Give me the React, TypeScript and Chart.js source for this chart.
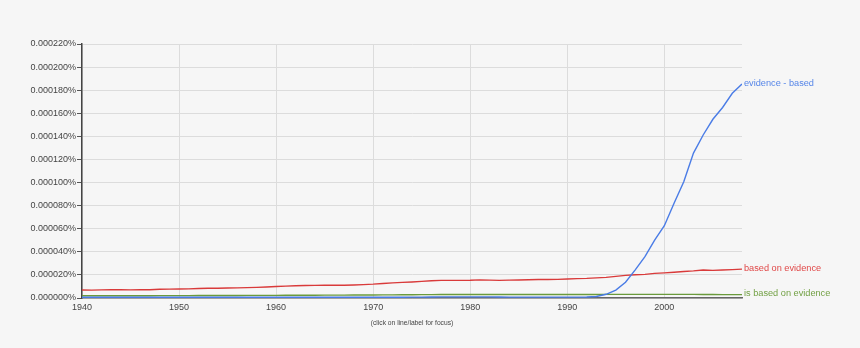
import React, { useEffect, useRef } from "react";
import { Chart, registerables } from "chart.js";

Chart.register(...registerables);

const years: number[] = [];
for (let y = 1940; y <= 2008; y++) years.push(y);

// values in percent
const evidenceBased = [
  0.7e-6, 0.7e-6, 0.7e-6, 0.7e-6, 0.7e-6, 0.7e-6, 0.7e-6, 0.7e-6, 0.7e-6, 0.7e-6,
  0.7e-6, 0.7e-6, 0.7e-6, 0.7e-6, 0.7e-6, 0.7e-6, 0.7e-6, 0.7e-6, 0.7e-6, 0.7e-6,
  0.7e-6, 0.7e-6, 0.7e-6, 0.7e-6, 0.7e-6, 0.7e-6, 0.7e-6, 0.7e-6, 0.7e-6, 0.7e-6,
  0.7e-6, 0.7e-6, 0.7e-6, 0.7e-6, 0.8e-6, 0.8e-6, 0.9e-6, 1.0e-6, 1.0e-6, 1.0e-6,
  1.0e-6, 1.0e-6, 1.0e-6, 0.9e-6, 0.8e-6, 0.8e-6, 0.8e-6, 0.8e-6, 0.8e-6, 0.8e-6,
  0.8e-6, 0.8e-6, 0.9e-6, 1.3e-6, 3.2e-6, 6.9e-6, 13.6e-6, 24.3e-6, 35.8e-6, 50.2e-6,
  62.6e-6, 82.0e-6, 100.7e-6, 125.5e-6, 141.2e-6, 154.8e-6, 165.0e-6, 177.3e-6, 185.3e-6,
];

const basedOnEvidence = [
  6.9e-6, 6.8e-6, 7.0e-6, 7.1e-6, 7.1e-6, 7.0e-6, 7.1e-6, 7.2e-6, 7.6e-6, 7.7e-6,
  7.8e-6, 7.9e-6, 8.2e-6, 8.4e-6, 8.5e-6, 8.6e-6, 8.8e-6, 9.0e-6, 9.2e-6, 9.5e-6,
  9.9e-6, 10.3e-6, 10.6e-6, 10.8e-6, 10.9e-6, 11.0e-6, 11.1e-6, 11.0e-6, 11.3e-6, 11.6e-6,
  12.0e-6, 12.6e-6, 13.1e-6, 13.5e-6, 13.9e-6, 14.4e-6, 15.0e-6, 15.3e-6, 15.3e-6, 15.3e-6,
  15.4e-6, 15.7e-6, 15.5e-6, 15.3e-6, 15.5e-6, 15.6e-6, 15.8e-6, 16.0e-6, 16.0e-6, 16.1e-6,
  16.4e-6, 16.8e-6, 17.0e-6, 17.4e-6, 17.9e-6, 18.7e-6, 19.6e-6, 20.2e-6, 20.5e-6, 21.3e-6,
  21.8e-6, 22.3e-6, 22.9e-6, 23.5e-6, 24.3e-6, 23.9e-6, 24.2e-6, 24.6e-6, 25.0e-6,
];

const isBasedOnEvidence = [
  1.9e-6, 1.9e-6, 1.9e-6, 2.0e-6, 2.0e-6, 2.0e-6, 2.0e-6, 2.0e-6, 2.1e-6, 2.1e-6,
  2.1e-6, 2.1e-6, 2.2e-6, 2.2e-6, 2.2e-6, 2.2e-6, 2.2e-6, 2.3e-6, 2.3e-6, 2.3e-6,
  2.3e-6, 2.4e-6, 2.4e-6, 2.4e-6, 2.4e-6, 2.5e-6, 2.5e-6, 2.5e-6, 2.6e-6, 2.6e-6,
  2.6e-6, 2.7e-6, 2.7e-6, 2.8e-6, 2.8e-6, 2.9e-6, 2.9e-6, 3.0e-6, 3.0e-6, 3.0e-6,
  3.0e-6, 3.0e-6, 3.0e-6, 3.0e-6, 3.0e-6, 3.0e-6, 3.0e-6, 3.0e-6, 3.0e-6, 3.0e-6,
  3.0e-6, 3.0e-6, 3.0e-6, 3.0e-6, 3.1e-6, 3.1e-6, 3.1e-6, 3.1e-6, 3.1e-6, 3.1e-6,
  3.1e-6, 3.1e-6, 3.1e-6, 3.1e-6, 3.0e-6, 3.0e-6, 2.9e-6, 2.9e-6, 2.9e-6,
];

const seriesLabels = ["evidence - based", "based on evidence", "is based on evidence"];
const lineColors = ["#4a7ce6", "#d93a3a", "#6a9a3c"];
const labelColors = ["#5585e8", "#e04848", "#72a044"];
const noteText = "(click on line/label for focus)";

const FONT = "'Liberation Sans', Arial, sans-serif";

const endLabels = {
  id: "endLabels",
  afterDatasetsDraw(chart: any) {
    const ctx = chart.ctx;
    ctx.save();
    ctx.font = `9.2px ${FONT}`;
    ctx.textBaseline = "middle";
    ctx.textAlign = "left";
    chart.data.datasets.forEach((ds: any, i: number) => {
      const meta = chart.getDatasetMeta(i);
      const pt = meta.data[meta.data.length - 1];
      ctx.fillStyle = labelColors[i];
      ctx.fillText(ds.label, pt.x + 2, pt.y - 1);
    });
    const a = chart.chartArea;
    ctx.font = `6.7px ${FONT}`;
    ctx.fillStyle = "#444";
    ctx.textAlign = "center";
    ctx.fillText(noteText, (a.left + a.right) / 2, 323);
    ctx.restore();
  },
};

export default function App() {
  const ref = useRef<HTMLCanvasElement>(null);
  useEffect(() => {
    const chart = new Chart(ref.current!, {
      type: "line",
      data: {
        datasets: seriesLabels.map((label, i) => ({
          label,
          data: [evidenceBased, basedOnEvidence, isBasedOnEvidence][i].map((v, j) => ({ x: years[j], y: v })),
          borderColor: lineColors[i],
          backgroundColor: lineColors[i],
          borderWidth: 1.4,
          pointRadius: 0,
          tension: 0,
          fill: false,
        })),
      },
      options: {
        animation: false,
        responsive: false,
        layout: { padding: { top: 44, right: 118, left: 0, bottom: 0 } },
        plugins: { legend: { display: false }, tooltip: { enabled: false } },
        scales: {
          x: {
            type: "linear",
            min: 1940,
            max: 2008,
            afterBuildTicks: (s: any) => {
              s.ticks = s.ticks.filter((t: any) => t.value % 10 === 0);
            },
            afterFit: (s: any) => {
              s.height = 50;
            },
            ticks: {
              stepSize: 10,
              color: "#444",
              font: { family: FONT, size: 9 },
              padding: 4,
              maxRotation: 0,
              callback: (v: any) => String(v),
            },
            grid: { color: "#dcdcdc", drawTicks: false, lineWidth: 1 },
            border: { color: "#666", width: 1.5 },
          },
          y: {
            min: 0,
            max: 0.00022,
            afterFit: (s: any) => {
              s.width = 82;
            },
            ticks: {
              stepSize: 0.00002,
              color: "#444",
              font: { family: FONT, size: 9 },
              padding: 1,
              callback: (v: any) => Number(v).toFixed(6) + "%",
            },
            grid: { color: "#dcdcdc", tickLength: 5, tickColor: "#555", lineWidth: 1 },
            border: { color: "#444", width: 1.5 },
          },
        },
      },
      plugins: [endLabels],
    } as any);
    return () => chart.destroy();
  }, []);
  return (
    <div style={{ position: "absolute", left: 0, top: 0, width: 860, height: 348, background: "#f6f6f6" }}>
      <canvas ref={ref} width={860} height={348} style={{ display: "block" }} />
    </div>
  );
}
